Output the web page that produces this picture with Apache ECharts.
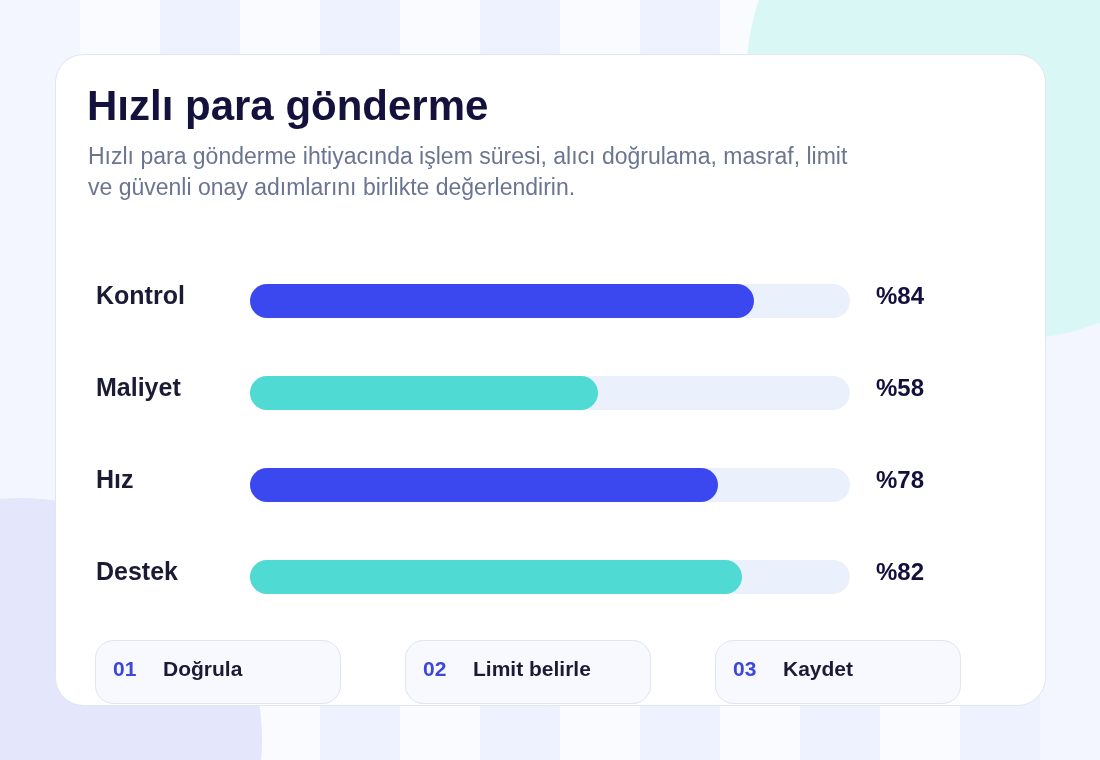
<!DOCTYPE html>
<html>
<head>
<meta charset="utf-8">
<script src="https://cdn.jsdelivr.net/npm/echarts@6/dist/echarts.min.js"></script>
<style>
  html, body { margin: 0; padding: 0; background: #f3f6fe; }
  #chart { width: 1100px; height: 760px; }
</style>
</head>
<body>
<div id="chart"></div>
<script>
// veriler
var categories = ['Kontrol', 'Maliyet', 'Hız', 'Destek']
var values = [84, 58, 78, 82]
var steps = ['01', '02', '03']
var stepNames = ['Doğrula', 'Limit belirle', 'Kaydet']

var FONT = "'Liberation Sans', Arial, sans-serif"
var BLUE = '#3b48f0'
var TEAL = '#4fdad4'

var chart = echarts.init(document.getElementById('chart'), null, { renderer: 'canvas' })

// arka plan şeritleri
var bg = []
for (var i = 0; i < 12; i++) {
  bg.push({
    type: 'rect',
    z: -30,
    shape: { x: 80 + i * 80, y: 0, width: 80, height: 760 },
    style: { fill: i % 2 === 0 ? '#f9fbff' : '#edf2fe' }
  })
}
bg.push({ type: 'circle', z: -20, shape: { cx: 1006, cy: 80, r: 260 }, style: { fill: '#d9f8f5' } })
bg.push({ type: 'circle', z: -20, shape: { cx: 20, cy: 740, r: 242 }, style: { fill: '#e4e7fc' } })

// kart
bg.push({
  type: 'rect',
  z: -10,
  shape: { x: 55.5, y: 54.5, width: 990, height: 651, r: 28 },
  style: { fill: '#ffffff', stroke: '#e0e6f3', lineWidth: 1 }
})

var texts = [
  {
    type: 'text',
    z: 5,
    style: {
      x: 87, y: 108, text: 'Hızlı para gönderme',
      font: 'bold 42px ' + FONT, fill: '#15113d', verticalAlign: 'middle'
    }
  },
  {
    type: 'text',
    z: 5,
    style: {
      x: 88, y: 142,
      text: 'Hızlı para gönderme ihtiyacında işlem süresi, alıcı doğrulama, masraf, limit\nve güvenli onay adımlarını birlikte değerlendirin.',
      font: '23px ' + FONT, fill: '#6b7591', verticalAlign: 'top', lineHeight: 31
    }
  }
]

// alt kutular
steps.forEach(function (s, k) {
  var left = 95 + k * 310
  bg.push({
    type: 'rect',
    z: -5,
    shape: { x: left + 0.5, y: 640.5, width: 245, height: 63, r: 18 },
    style: { fill: '#f8f9fe', stroke: '#dfe4f0', lineWidth: 1 }
  })
  texts.push({
    type: 'text', z: 5,
    style: { x: left + 18, y: 670, text: s, font: 'bold 21px ' + FONT, fill: '#3b48d8', verticalAlign: 'middle' }
  })
  texts.push({
    type: 'text', z: 5,
    style: { x: left + 68, y: 670, text: stepNames[k], font: 'bold 21px ' + FONT, fill: '#1b1b35', verticalAlign: 'middle' }
  })
})

var option = {
  backgroundColor: '#f3f6fe',
  animation: false,
  graphic: bg.concat(texts),
  grid: { left: 250, right: 250, top: 255, height: 368 },
  xAxis: {
    type: 'value',
    min: 0,
    max: 100,
    show: false
  },
  yAxis: [
    {
      type: 'category',
      data: categories,
      inverse: true,
      axisLine: { show: false },
      axisTick: { show: false },
      splitLine: { show: false },
      axisLabel: {
        align: 'left',
        verticalAlign: 'bottom',
        lineHeight: 8,
        margin: 154,
        fontFamily: FONT,
        fontSize: 25,
        fontWeight: 'bold',
        color: '#1b1b35'
      }
    },
    {
      type: 'category',
      position: 'right',
      data: values.map(function (v) { return '%' + v }),
      inverse: true,
      axisLine: { show: false },
      axisTick: { show: false },
      splitLine: { show: false },
      axisLabel: {
        align: 'left',
        verticalAlign: 'bottom',
        lineHeight: 8,
        margin: 26,
        fontFamily: FONT,
        fontSize: 24,
        fontWeight: 'bold',
        color: '#14103d'
      }
    }
  ],
  series: [
    {
      type: 'bar',
      data: values,
      barWidth: 34,
      showBackground: true,
      backgroundStyle: { color: '#ebf1fc', borderRadius: 17 },
      itemStyle: {
        borderRadius: 17,
        color: function (p) {
          return p.dataIndex % 2 === 0 ? BLUE : TEAL
        }
      }
    }
  ]
}

chart.setOption(option)
</script>
</body>
</html>
